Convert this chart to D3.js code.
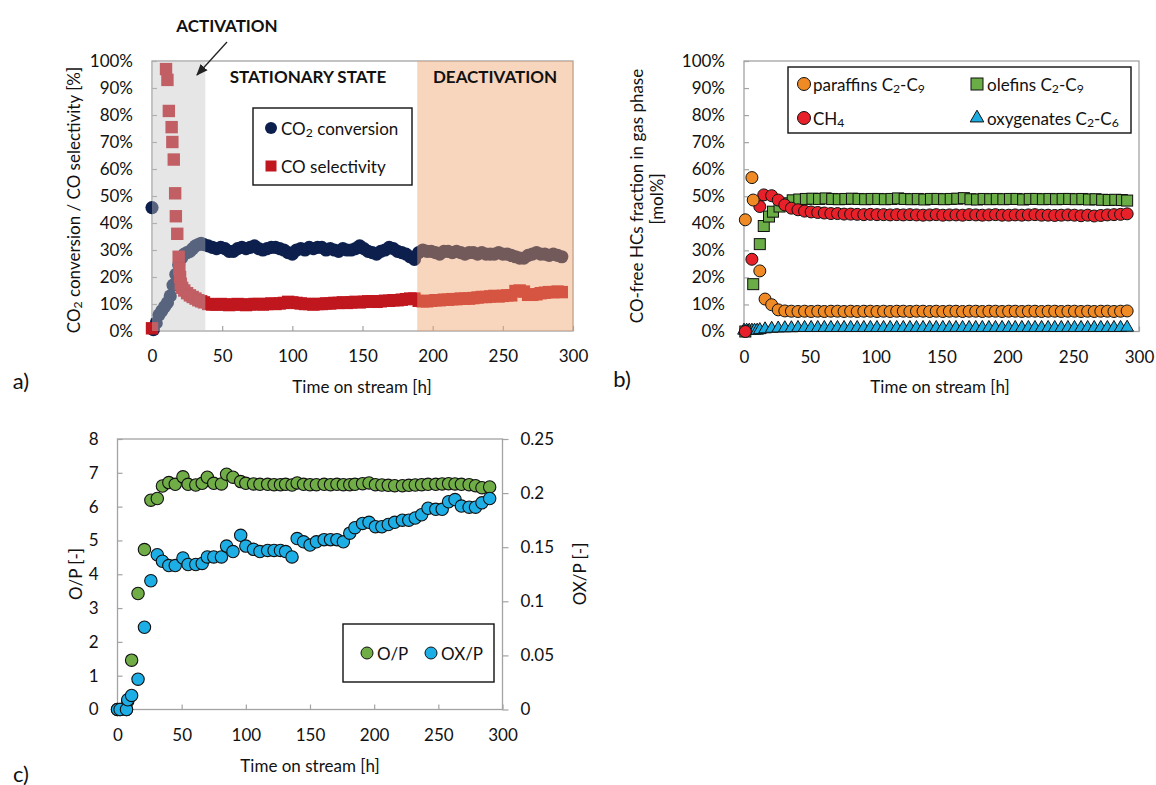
<!DOCTYPE html>
<html><head><meta charset="utf-8">
<script src="https://cdn.jsdelivr.net/npm/d3@7"></script>
<style>
body{margin:0;background:#fff}
svg{display:block}
text{font-family:Lato,"Open Sans",sans-serif;fill:#111}
</style>
</head><body>
<svg id="fig" width="1156" height="785"></svg>
<script>
// ---------- panel a: CO2 conversion and CO selectivity ----------
const convTime = [0,1,3,5,7,9,11,13,15,17,19,21,23,25,27,29,31,33,35,37,
  40,43,46,49,52,55,58,61,64,67,70,73,76,79,82,85,88,91,94,97,100,103,106,109,112,115,118,121,124,127,
  130,133,136,139,142,145,148,151,154,157,160,163,166,169,172,175,178,181,184,187,
  190,193,196,199,202,205,208,211,214,217,220,223,226,229,232,235,238,241,244,247,250,253,256,259,262,265,268,271,274,277,280,283,286,289,292];
const convValues = [45.7,0.5,3,6,7.5,9,10.5,13,17,21,24.5,27,28.5,29,29.5,30.5,31.5,32,32.5,32,
  31.5,31,30.5,31,30.5,29.5,29.5,30.5,31,30.5,31,31.5,30.5,30,30.5,31,31,30.5,30,29,28.5,30,30.5,30,31,30.5,31,31,30,30.5,
  30,29.5,30.5,30,30,30.5,31.5,30.5,29.5,29,28.5,29.5,30,31,30.5,29.5,29,28.5,27.5,26.5,
  29,30,29.5,29.5,29,28.5,29.5,29.5,29,29.5,29,28.5,29,29,28.5,29,28.5,28.5,28.5,29,28.5,28.5,28,27.5,27,27,28,28.5,29,28.5,28.5,28,28.5,28,27.5];

const selTime = [0,10,11,12,14,14.5,15.5,16.5,17,18,19,19.5,20,20.5,21.5,23,25,27,29,31,33,35,37,
  40,43,46,49,52,55,58,61,64,67,70,73,76,79,82,85,88,91,94,97,100,103,106,109,112,115,118,121,124,127,
  130,133,136,139,142,145,148,151,154,157,160,163,166,169,172,175,178,181,184,187,
  190,193,196,199,202,205,208,211,214,217,220,223,226,229,232,235,238,241,244,247,250,253,256,259,262,265,268,271,274,277,280,283,286,289,292];
const selValues = [1,97,93,81.5,75.5,70,63.5,51,42.5,36,27.5,23,20,17.5,16,15,14,13.2,12.6,12,11.4,11,10.6,
  10,9.8,9.8,10,9.8,9.6,9.8,10,9.8,9.6,9.8,10,10,9.8,10,10.2,10,10.2,10.4,10.8,10.6,10.4,10.2,10,10,9.8,10,10,10.2,10.2,
  10.4,10.4,10.6,10.4,10.6,10.8,10.6,10.8,11,11,10.8,11,11.2,11.2,11.4,11.4,11.6,11.8,12,12,
  11.2,11,11,11.2,11.4,11.4,11.6,11.6,11.8,11.8,12,12,12,12.2,12.4,12.6,12.6,12.8,13,12.8,13,13.2,13.2,14.8,15,14.6,13.4,13.4,13.6,14,14.2,14.4,14.4,14.6,14.4];

const phaseLabels = ["ACTIVATION","STATIONARY STATE","DEACTIVATION"];
const phaseBounds = [0, 38, 189, 300];

// ---------- panel b: hydrocarbon fractions ----------
const parTime = [1,6,7,12,16,21,26,31,36,41,46,51,56,61,66,71,76,81,86,91,96,101,106,111,116,121,126,131,136,141,146,151,156,161,166,171,176,181,186,191,196,201,206,211,216,221,226,231,236,241,246,251,256,261,266,271,276,281,286,291];
const parValues = [41.3,56.9,48.6,22.4,12,9.9,8,7.6,7.5,7.4,7.5,7.4,7.5,7.4,7.5,7.5,7.4,7.5,7.4,7.5,7.5,7.4,7.5,7.4,7.5,7.5,7.4,7.5,7.5,7.4,7.5,7.4,7.5,7.5,7.4,7.5,7.5,7.4,7.5,7.5,7.4,7.5,7.5,7.4,7.5,7.5,7.4,7.5,7.5,7.4,7.5,7.5,7.4,7.5,7.4,7.5,7.5,7.4,7.5,7.6];
const ch4Time = [1,6,12,15,21,26,31,36,41,46,51,56,61,66,71,76,81,86,91,96,101,106,111,116,121,126,131,136,141,146,151,156,161,166,171,176,181,186,191,196,201,206,211,216,221,226,231,236,241,246,251,256,261,266,271,276,281,286,291];
const ch4Values = [0,26.7,46.2,50.5,50.2,48.6,46.8,45.6,45,44.5,44.2,44,43.8,43.6,43.6,43.4,43.4,43.3,43.2,43.3,43.2,43.2,43.1,43.2,43.1,43.2,43.1,43,43.1,43.2,43,43.1,43.1,43,43.2,43.1,43,43.1,43.2,43,43,43.1,43,43.1,43.2,43,43,42.9,43,43.1,43,42.8,43,42.7,42.9,43.1,43.2,43.3,43.5];
const olefTime = [1,7,12,15,19,22,27,32,37,42,47,52,57,62,67,72,77,82,87,92,97,102,107,112,117,122,127,132,137,142,147,152,157,162,167,172,177,182,187,192,197,202,207,212,217,222,227,232,237,242,247,252,257,262,267,272,277,282,287,291];
const olefValues = [0,17.5,32.3,39,42.5,44.3,46.2,47.4,48.5,48.8,49,49.1,49,49.2,49,48.9,49,49.1,49,48.9,49,49,48.9,49,49.2,49,48.9,49,48.8,49,49,48.9,49,49.1,49.3,48.9,48.8,49,48.9,49,48.9,49,49,48.8,49,49,48.9,49,48.9,49,49,48.9,49,48.8,48.9,48.7,48.6,48.7,48.6,48.4];
const oxyTime = [0,2,4,6,8,10,12,16,21,26,31,36,41,46,51,56,61,66,71,76,81,86,91,96,101,106,111,116,121,126,131,136,141,146,151,156,161,166,171,176,181,186,191,196,201,206,211,216,221,226,231,236,241,246,251,256,261,266,271,276,281,286,291];
const oxyValues = [0,0,0,0,0,0,0.2,0.5,0.7,0.8,0.9,0.9,1,1,1,1,1,1,1,1,1,1,1,1,1,1,1,1,1,1,1,1,1,1,1,1,1,1,1,1,1,1,1,1,1,1,1,1,1,1,1,1,1,1,1,1,1,1,1,1,1,1,1.1];

// ---------- panel c: O/P and OX/P ratios ----------
const ratioTime = [0,2,7,8,11,16,21,26,31,35,40,45,51,55,61,66,70,75,81,85,90,96,100,106,111,117,122,127,131,136,
  140,145,150,155,161,166,171,176,181,185,191,196,201,206,211,216,222,227,232,237,242,248,253,258,263,268,274,279,284,290];
const opValues = [0,0,0,0.25,1.46,3.43,4.73,6.19,6.24,6.61,6.71,6.66,6.88,6.66,6.64,6.69,6.87,6.69,6.67,6.96,6.87,6.74,6.69,6.67,6.66,6.66,6.65,6.65,6.66,6.64,
  6.7,6.66,6.65,6.65,6.66,6.65,6.66,6.65,6.65,6.66,6.68,6.7,6.65,6.64,6.63,6.62,6.62,6.63,6.64,6.65,6.66,6.66,6.67,6.68,6.67,6.66,6.65,6.62,6.56,6.58];
const oxpValues = [0,0,0,0.009,0.013,0.028,0.076,0.119,0.143,0.137,0.133,0.133,0.140,0.134,0.134,0.135,0.141,0.141,0.141,0.151,0.146,0.161,0.151,0.148,0.146,0.147,0.147,0.147,0.146,0.141,
  0.158,0.155,0.152,0.155,0.157,0.157,0.157,0.155,0.163,0.168,0.172,0.173,0.169,0.169,0.171,0.173,0.175,0.175,0.177,0.180,0.186,0.185,0.185,0.192,0.194,0.188,0.187,0.187,0.191,0.195];

const timeTicks = [0,50,100,150,200,250,300];
const pctTicks = [0,10,20,30,40,50,60,70,80,90,100];
const opTicks = [0,1,2,3,4,5,6,7,8];
const oxpTicks = [0,0.05,0.1,0.15,0.2,0.25];

// ---------- drawing ----------
const svg = d3.select("#fig");
const FS = 17;
const AXIS_GREY = "#a3a3a3";

function styleAxis(g) {
  g.select(".domain").remove();
  g.selectAll(".tick line").attr("stroke", AXIS_GREY).attr("stroke-width", 1.2);
  g.selectAll(".tick text").attr("font-size", FS).attr("font-family", "Lato, 'Open Sans', sans-serif").attr("fill", "#111");
}
function frame(x, y) {
  const [x0, x1] = x.range(), [y0, y1] = y.range();
  svg.append("rect").attr("x", x0).attr("y", y1).attr("width", x1 - x0).attr("height", y0 - y1)
    .attr("fill", "none").attr("stroke", AXIS_GREY).attr("stroke-width", 1.3);
}
function xAxis(x, yPix) {
  svg.append("g").attr("transform", `translate(0,${yPix})`)
    .call(d3.axisBottom(x).tickValues(timeTicks).tickSize(-5).tickPadding(19).tickFormat(d3.format("d")))
    .call(styleAxis);
}
function leftAxis(y, xPix, ticks, fmt) {
  svg.append("g").attr("transform", `translate(${xPix},0)`)
    .call(d3.axisLeft(y).tickValues(ticks).tickSize(-5).tickPadding(19).tickFormat(fmt))
    .call(styleAxis);
}
// text with "_x" marking a subscript character
function label(txt, x, y, opts = {}) {
  const t = svg.append("text").attr("x", x).attr("y", y).attr("font-size", opts.size || FS)
    .attr("text-anchor", opts.anchor || "middle").attr("dominant-baseline", "central");
  const parts = txt.split(/(_.)/);
  let shifted = false;
  parts.forEach(p => {
    if (!p) return;
    if (p[0] === "_") {
      t.append("tspan").attr("font-size", (opts.size || FS) * 0.72).attr("dy", shifted ? 0 : 4).text(p[1]);
      shifted = true;
    } else {
      const s = t.append("tspan").text(p);
      if (shifted) { s.attr("dy", -4); shifted = false; }
    }
  });
  if (opts.bold) t.attr("font-weight", "bold");
  if (opts.rotate) t.attr("transform", `rotate(${opts.rotate},${x},${y})`);
  return t;
}
const pct = d => d + "%";

// ----- panel a -----
const xA = d3.scaleLinear().domain([0, 300]).range([152, 573]);
const yA = d3.scaleLinear().domain([0, 100]).range([331, 61]);
frame(xA, yA);
xAxis(xA, 331);
leftAxis(yA, 152, pctTicks, pct);

const NAVY = "#0c1f4d", CRIMSON = "#c0171f";
svg.append("g").selectAll("circle").data(convTime).join("circle")
  .attr("cx", d => xA(d)).attr("cy", (d, i) => yA(convValues[i])).attr("r", 6.6).attr("fill", NAVY);
svg.append("g").selectAll("rect").data(selTime).join("rect")
  .attr("x", d => xA(d) - 6.2).attr("y", (d, i) => yA(selValues[i]) - 6.2).attr("width", 12.4).attr("height", 12.4).attr("fill", CRIMSON);

// phase shading laid over the markers
svg.append("rect").attr("x", xA(phaseBounds[0])).attr("y", yA(100))
  .attr("width", xA(phaseBounds[1]) - xA(phaseBounds[0])).attr("height", yA(0) - yA(100))
  .attr("fill", "rgb(195,195,195)").attr("opacity", 0.42);
svg.append("rect").attr("x", xA(phaseBounds[2])).attr("y", yA(100))
  .attr("width", xA(phaseBounds[3]) - xA(phaseBounds[2])).attr("height", yA(0) - yA(100))
  .attr("fill", "rgb(240,162,109)").attr("opacity", 0.45);

label(phaseLabels[0], 227, 25, {bold: true});
label(phaseLabels[1], 308, 76, {bold: true});
label(phaseLabels[2], 495, 76, {bold: true});
svg.append("defs").append("marker").attr("id", "arr").attr("viewBox", "0 0 10 10")
  .attr("refX", 9).attr("refY", 5).attr("markerWidth", 9).attr("markerHeight", 9).attr("orient", "auto")
  .append("path").attr("d", "M0,1 L10,5 L0,9 Z").attr("fill", "#222");
svg.append("line").attr("x1", 227).attr("y1", 42).attr("x2", 197).attr("y2", 75)
  .attr("stroke", "#222").attr("stroke-width", 1.3).attr("marker-end", "url(#arr)");

// legend a
svg.append("rect").attr("x", 253).attr("y", 108).attr("width", 159).attr("height", 77)
  .attr("fill", "#fff").attr("stroke", "#111").attr("stroke-width", 1.4);
svg.append("circle").attr("cx", 271).attr("cy", 128).attr("r", 6).attr("fill", NAVY);
svg.append("rect").attr("x", 265.5).attr("y", 160.5).attr("width", 11).attr("height", 11).attr("fill", CRIMSON);
label("CO_2 conversion", 281, 128, {anchor: "start"});
label("CO selectivity", 281, 166, {anchor: "start"});

// axis titles a
label("CO_2 conversion / CO selectivity [%]", 73, 200, {rotate: -90});
label("Time on stream [h]", 362, 386);
label("a)", 21, 380, {size: 22});

// ----- panel b -----
const xB = d3.scaleLinear().domain([0, 300]).range([744, 1139]);
const yB = d3.scaleLinear().domain([0, 100]).range([331.5, 61]);
frame(xB, yB);
xAxis(xB, 331.5);
leftAxis(yB, 744, pctTicks, pct);

const ORANGE = "#f08a24", RED = "#e8202a", GREEN = "#6aac46", CYAN = "#1caee2";
const tri = d3.symbol().type(d3.symbolTriangle).size(70);
svg.append("g").selectAll("path").data(oxyTime).join("path")
  .attr("d", tri).attr("transform", (d, i) => `translate(${xB(d)},${yB(oxyValues[i]) - 1})`)
  .attr("fill", CYAN).attr("stroke", "#111").attr("stroke-width", 1);
svg.append("g").selectAll("rect").data(olefTime).join("rect")
  .attr("x", d => xB(d) - 5.5).attr("y", (d, i) => yB(olefValues[i]) - 5.5).attr("width", 11).attr("height", 11)
  .attr("fill", GREEN).attr("stroke", "#111").attr("stroke-width", 1);
svg.append("g").selectAll("circle").data(ch4Time).join("circle")
  .attr("cx", d => xB(d)).attr("cy", (d, i) => yB(ch4Values[i])).attr("r", 6)
  .attr("fill", RED).attr("stroke", "#111").attr("stroke-width", 1);
svg.append("g").selectAll("circle").data(parTime).join("circle")
  .attr("cx", d => xB(d)).attr("cy", (d, i) => yB(parValues[i])).attr("r", 6)
  .attr("fill", ORANGE).attr("stroke", "#111").attr("stroke-width", 1);

// legend b
svg.append("rect").attr("x", 788).attr("y", 67).attr("width", 343).attr("height", 66)
  .attr("fill", "#fff").attr("stroke", "#111").attr("stroke-width", 1.4);
svg.append("circle").attr("cx", 804).attr("cy", 84).attr("r", 6.5).attr("fill", ORANGE).attr("stroke", "#111");
svg.append("circle").attr("cx", 804).attr("cy", 118).attr("r", 6.5).attr("fill", RED).attr("stroke", "#111");
svg.append("rect").attr("x", 971).attr("y", 78).attr("width", 12).attr("height", 12).attr("fill", GREEN).attr("stroke", "#111");
svg.append("path").attr("d", d3.symbol().type(d3.symbolTriangle).size(80)).attr("transform", "translate(977,118)")
  .attr("fill", CYAN).attr("stroke", "#111");
label("paraffins C_2-C_9", 813, 84, {anchor: "start"});
label("CH_4", 813, 118, {anchor: "start"});
label("olefins C_2-C_9", 987, 84, {anchor: "start"});
label("oxygenates C_2-C_6", 987, 118, {anchor: "start"});

label("CO-free HCs fraction in gas phase", 636, 196, {rotate: -90});
label("[mol%]", 656, 199, {rotate: -90});
label("Time on stream [h]", 940, 386);
label("b)", 622, 378, {size: 22});

// ----- panel c -----
const xC = d3.scaleLinear().domain([0, 300]).range([117.5, 502.5]);
const yC = d3.scaleLinear().domain([0, 8]).range([709.5, 439]);
const yC2 = d3.scaleLinear().domain([0, 0.25]).range([709.5, 439]);
frame(xC, yC);
xAxis(xC, 709.5);
leftAxis(yC, 117.5, opTicks, d3.format("d"));
svg.append("g").attr("transform", "translate(502.5,0)")
  .call(d3.axisRight(yC2).tickValues(oxpTicks).tickSize(6).tickPadding(12).tickFormat(d => d === 0 ? "0" : String(d)))
  .call(styleAxis);

const LIME = "#70ad47", SKY = "#1eaee6";
svg.append("g").selectAll("circle").data(ratioTime).join("circle")
  .attr("cx", d => xC(d)).attr("cy", (d, i) => yC(opValues[i])).attr("r", 6.2)
  .attr("fill", LIME).attr("stroke", "#111").attr("stroke-width", 1.1);
svg.append("g").selectAll("circle").data(ratioTime).join("circle")
  .attr("cx", d => xC(d)).attr("cy", (d, i) => yC2(oxpValues[i])).attr("r", 6.2)
  .attr("fill", SKY).attr("stroke", "#111").attr("stroke-width", 1.1);

// legend c
svg.append("rect").attr("x", 343).attr("y", 624).attr("width", 151).attr("height", 58)
  .attr("fill", "#fff").attr("stroke", "#111").attr("stroke-width", 1.4);
svg.append("circle").attr("cx", 367).attr("cy", 653).attr("r", 6).attr("fill", LIME).attr("stroke", "#111");
svg.append("circle").attr("cx", 431).attr("cy", 653).attr("r", 6).attr("fill", SKY).attr("stroke", "#111");
label("O/P", 377, 653, {anchor: "start"});
label("OX/P", 441, 653, {anchor: "start"});

label("O/P [-]", 75, 574, {rotate: -90});
label("OX/P [-]", 579, 574, {rotate: -90});
label("Time on stream [h]", 310, 765);
label("c)", 21, 773, {size: 22});
</script>
</body></html>
